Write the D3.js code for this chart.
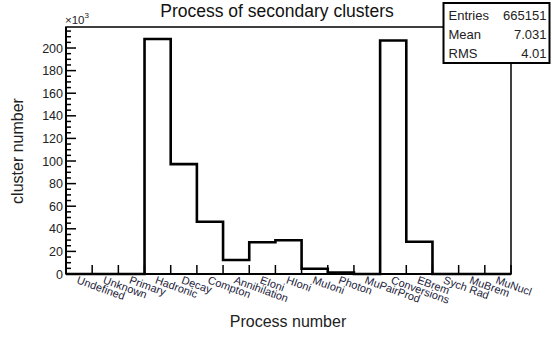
<!DOCTYPE html>
<html>
<head>
<meta charset="utf-8">
<script src="https://cdn.jsdelivr.net/npm/d3@7"></script>
<style>
  html, body { margin: 0; padding: 0; background: #fff; }
  svg { display: block; font-family: "Liberation Sans", Arial, sans-serif; }
</style>
</head>
<body>
<svg id="chart" width="552" height="338"></svg>
<script>
// ---- data ----
const categories = ["Undefined", "Unknown", "Primary", "Hadronic", "Decay", "Compton",
  "Annihilation", "EIoni", "HIoni", "MuIoni", "Photon", "MuPairProd", "Conversions",
  "EBrem", "Sych Rad", "MuBrem", "MuNucl"];
const counts = [0, 0, 0, 208.0, 97.2, 46.3, 12.4, 28.1, 29.9, 4.7, 1.2, 0, 206.7, 28.6, 0, 0, 0]; // ×10^3
const yTicks = [0, 20, 40, 60, 80, 100, 120, 140, 160, 180, 200];
const statsLabels = ["Entries", "Mean", "RMS"];
const statsValues = ["665151", "7.031", "4.01"];
const titleText = "Process of secondary clusters";
const xTitle = "Process number";
const yTitle = "cluster number";

// ---- layout ----
const L = 66, R = 511, T = 27, B = 274;
const svg = d3.select("#chart");

const x = d3.scaleBand().domain(categories).range([L, R]).padding(0);
const y = d3.scaleLinear().domain([0, 218.6]).range([B, T]);

// frame
svg.append("rect").attr("x", L).attr("y", T).attr("width", R - L).attr("height", B - T)
  .attr("fill", "none").attr("stroke", "#000").attr("stroke-width", 1.5);

// histogram outline
const pts = [[L, y(0)]];
categories.forEach((c, i) => {
  pts.push([x(c), y(counts[i])]);
  pts.push([x(c) + x.bandwidth(), y(counts[i])]);
});
pts.push([R, y(0)]);
svg.append("path").attr("d", d3.line()(pts)).attr("fill", "none")
  .attr("stroke", "#000").attr("stroke-width", 2.6).attr("stroke-linejoin", "miter");

// y axis ticks (major + minor, inward)
const minor = d3.range(0, 218.6, 5);
svg.append("g").selectAll("line").data(minor).join("line")
  .attr("x1", L).attr("x2", d => L + (d % 20 === 0 ? 10 : 5))
  .attr("y1", d => y(d)).attr("y2", d => y(d))
  .attr("stroke", "#000").attr("stroke-width", 1.5);
svg.append("g").selectAll("text").data(yTicks).join("text")
  .attr("x", L - 3).attr("y", d => y(d)).attr("dy", "0.36em")
  .attr("text-anchor", "end").attr("font-size", 12.5).attr("fill", "#222")
  .text(d => d);
svg.append("line").attr("x1", L).attr("x2", L).attr("y1", T).attr("y2", B)
  .attr("stroke", "#000").attr("stroke-width", 2);

// x axis ticks at bin edges (inward)
const edges = categories.map(c => x(c)).concat([R]);
svg.append("g").selectAll("line").data(edges).join("line")
  .attr("x1", d => d).attr("x2", d => d).attr("y1", B).attr("y2", B - 9)
  .attr("stroke", "#000").attr("stroke-width", 1.5);
svg.append("line").attr("x1", L).attr("x2", R).attr("y1", B).attr("y2", B)
  .attr("stroke", "#000").attr("stroke-width", 2);

// x bin labels, rotated
svg.append("g").selectAll("text").data(categories).join("text")
  .attr("transform", c => `translate(${x(c) + x.bandwidth() / 2 - 3},${B + 9}) rotate(20)`)
  .attr("font-size", 11).attr("fill", "#1c1c3a")
  .text(c => c);

// exponent label
const ex = svg.append("text").attr("x", 65).attr("y", 24).attr("font-size", 11.5).attr("fill", "#222");
ex.append("tspan").text("\u00d710");
ex.append("tspan").attr("dy", -6).attr("font-size", 8).text("3");

// title
svg.append("text").attr("x", 277).attr("y", 17).attr("text-anchor", "middle")
  .attr("font-size", 17.5).attr("fill", "#111").text(titleText);

// axis titles
svg.append("text").attr("x", 288).attr("y", 327).attr("text-anchor", "middle")
  .attr("font-size", 16).attr("fill", "#222").text(xTitle);
svg.append("text").attr("transform", "translate(23,151) rotate(-90)").attr("text-anchor", "middle")
  .attr("font-size", 16).attr("fill", "#222").text(yTitle);

// stats box
const bx = 443.5, by = 3, bw = 106, bh = 60;
svg.append("rect").attr("x", bx).attr("y", by).attr("width", bw).attr("height", bh)
  .attr("fill", "#fff").attr("stroke", "#000").attr("stroke-width", 2);
const rowY = [19.5, 38.5, 57.5];
statsLabels.forEach((s, i) => {
  svg.append("text").attr("x", bx + 5).attr("y", rowY[i]).attr("font-size", 13)
    .attr("fill", "#222").text(s);
  svg.append("text").attr("x", bx + bw - 3).attr("y", rowY[i]).attr("font-size", 13)
    .attr("text-anchor", "end").attr("fill", "#222").text(statsValues[i]);
});
</script>
</body>
</html>
